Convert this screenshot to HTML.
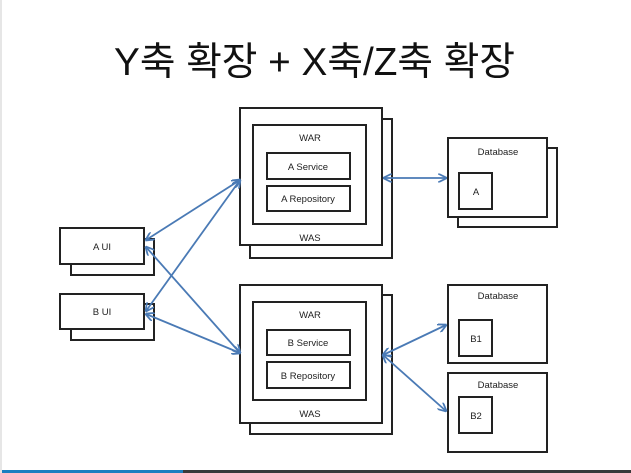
<!DOCTYPE html>
<html><head><meta charset="utf-8"><style>
html,body{margin:0;padding:0;background:#fff}
body{width:631px;height:473px;overflow:hidden;position:relative;font-family:"Liberation Sans","Noto Sans CJK KR",sans-serif}
</style></head><body>
<svg width="631" height="473" viewBox="0 0 631 473" xmlns="http://www.w3.org/2000/svg" style="position:absolute;left:0;top:0">
<defs>
<marker id="ah" viewBox="0 0 10 10" refX="9" refY="5" markerWidth="9" markerHeight="9" orient="auto-start-reverse" markerUnits="userSpaceOnUse">
<path d="M0,0 L10,5 L0,10" fill="none" stroke="#4a7ab5" stroke-width="2"/>
</marker>
</defs>
<rect x="0" y="0" width="2" height="473" fill="#e6e6e6"/>
<rect x="2" y="470" width="629" height="3" fill="#3a3a3a"/>
<rect x="2" y="470" width="181" height="3" fill="#1c7fc0"/>
<text x="114" y="75" font-size="39" textLength="401" lengthAdjust="spacingAndGlyphs" fill="#111" font-family="Liberation Sans,Noto Sans CJK KR,sans-serif">Y축 확장 + X축/Z축 확장</text>
<g fill="#fff" stroke="#222" stroke-width="2" font-size="10" font-family="Liberation Sans,sans-serif">
<rect x="250" y="119" width="142" height="139"/>
<rect x="240" y="108" width="142" height="137"/>
<rect x="253" y="125" width="113" height="99"/>
<rect x="267" y="153" width="83" height="26"/>
<rect x="267" y="186" width="83" height="25"/>
<rect x="250" y="295" width="142" height="139"/>
<rect x="240" y="285" width="142" height="138"/>
<rect x="253" y="302" width="113" height="98"/>
<rect x="267" y="330" width="83" height="25"/>
<rect x="267" y="362" width="83" height="26"/>
<rect x="458" y="148" width="99" height="79"/>
<rect x="448" y="138" width="99" height="79"/>
<rect x="459" y="173" width="33" height="36"/>
<rect x="448" y="285" width="99" height="78"/>
<rect x="459" y="320" width="33" height="36"/>
<rect x="448" y="373" width="99" height="79"/>
<rect x="459" y="397" width="33" height="36"/>
<rect x="71" y="239" width="83" height="36"/>
<rect x="60" y="228" width="84" height="36"/>
<rect x="71" y="304" width="83" height="36"/>
<rect x="60" y="294" width="84" height="35"/>
</g>
<g font-size="9.5" fill="#222" text-anchor="middle" font-family="Liberation Sans,sans-serif">
<text x="310" y="141">WAR</text>
<text x="308" y="170">A Service</text>
<text x="308" y="202">A Repository</text>
<text x="310" y="241">WAS</text>
<text x="310" y="318">WAR</text>
<text x="308" y="346">B Service</text>
<text x="308" y="379">B Repository</text>
<text x="310" y="417">WAS</text>
<text x="498" y="155">Database</text>
<text x="476" y="195">A</text>
<text x="498" y="299">Database</text>
<text x="476" y="342">B1</text>
<text x="498" y="388">Database</text>
<text x="476" y="419">B2</text>
<text x="102" y="250">A UI</text>
<text x="102" y="315">B UI</text>
</g>
<g stroke="#4a7ab5" stroke-width="1.8" fill="none">
<line x1="384" y1="178" x2="446" y2="178" marker-start="url(#ah)" marker-end="url(#ah)"/>
<line x1="146" y1="240" x2="240" y2="180" marker-start="url(#ah)" marker-end="url(#ah)"/>
<line x1="146" y1="247" x2="240" y2="353" marker-start="url(#ah)" marker-end="url(#ah)"/>
<line x1="146" y1="311" x2="240" y2="180" marker-start="url(#ah)" marker-end="url(#ah)"/>
<line x1="146" y1="314" x2="240" y2="353" marker-start="url(#ah)" marker-end="url(#ah)"/>
<line x1="383" y1="355" x2="446" y2="325" marker-start="url(#ah)" marker-end="url(#ah)"/>
<line x1="383" y1="355" x2="446" y2="411" marker-start="url(#ah)" marker-end="url(#ah)"/>
</g>
</svg>
</body></html>
